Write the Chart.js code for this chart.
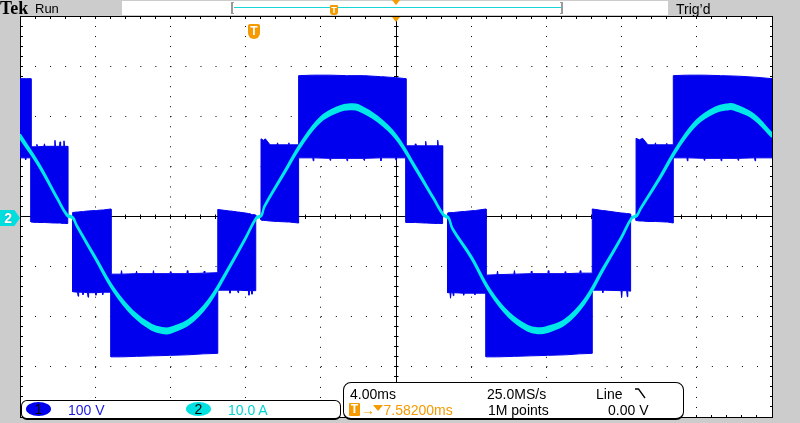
<!DOCTYPE html>
<html>
<head>
<meta charset="utf-8">
<script src="https://cdn.jsdelivr.net/npm/chart.js@4.4.0/dist/chart.umd.min.js"></script>
<style>
html,body{margin:0;padding:0;width:800px;height:423px;overflow:hidden;background:#cccccc;font-family:"Liberation Sans",Arial,sans-serif;}
#plotbg{position:absolute;left:20px;top:16px;width:752px;height:401px;background:#fff;}
#cv{position:absolute;left:0;top:0;}
.t{position:absolute;white-space:nowrap;font-size:14px;line-height:14px;z-index:5;}
.abs{position:absolute;z-index:5;}
</style>
</head>
<body>
<div id="plotbg"></div>
<canvas id="cv" width="800" height="423"></canvas>

<!-- top status bar -->
<div class="t" style="left:0;top:-1px;font-family:'Liberation Serif',serif;font-weight:bold;font-size:18px;line-height:18px;">Tek</div>
<div class="t" style="left:35px;top:2px;font-size:13px;line-height:13px;">Run</div>
<div class="abs" style="left:122px;top:1px;width:546px;height:14px;background:#fff;"></div>
<div class="abs" style="left:231px;top:2px;width:2px;height:12px;background:#9a9a9a;"></div>
<div class="abs" style="left:231px;top:2px;width:3px;height:1px;background:#9a9a9a;"></div>
<div class="abs" style="left:231px;top:13px;width:3px;height:1px;background:#9a9a9a;"></div>
<div class="abs" style="left:561px;top:2px;width:2px;height:12px;background:#9a9a9a;"></div>
<div class="abs" style="left:560px;top:2px;width:3px;height:1px;background:#9a9a9a;"></div>
<div class="abs" style="left:560px;top:13px;width:3px;height:1px;background:#9a9a9a;"></div>
<div class="abs" style="left:234px;top:7px;width:327px;height:1px;background:#18d4d4;"></div>
<div class="abs" style="left:330px;top:5px;width:8px;height:10px;background:#f59a00;border-radius:1px 1px 3px 3px;color:#fff;font:bold 9px 'Liberation Sans',sans-serif;line-height:10px;text-align:center;">T</div>
<div class="abs" style="left:392px;top:0;width:0;height:0;border-left:4px solid transparent;border-right:4px solid transparent;border-top:5px solid #f59a00;"></div>
<div class="t" style="left:676px;top:1.5px;">Trig’d</div>

<!-- graticule markers -->
<div class="abs" style="left:392px;top:17px;width:0;height:0;border-left:4px solid transparent;border-right:4px solid transparent;border-top:5px solid #f59a00;"></div>
<div class="abs" style="left:248px;top:24px;width:12px;height:15px;background:#f59a00;border-radius:2px 2px 6px 6px;color:#fff;font:bold 12px 'Liberation Sans',sans-serif;line-height:14px;text-align:center;">T</div>
<div class="abs" style="left:0;top:210px;width:20px;height:16px;background:#00dede;clip-path:polygon(0 0,72% 0,100% 50%,72% 100%,0 100%);color:#fff;font:bold 14px 'Liberation Sans',sans-serif;line-height:16px;text-indent:4px;text-shadow:0 0 1px #067;">2</div>

<!-- bottom left channel box -->
<div class="abs" style="left:21px;top:400px;width:320px;height:20px;box-sizing:border-box;background:#fff;border:1px solid #000;border-bottom-width:2px;border-radius:6px;"></div>
<div class="abs" style="left:26px;top:402px;width:25px;height:14px;border-radius:50%;background:#0000ee;color:#000;font-size:14px;line-height:14px;text-align:center;">1</div>
<div class="t" style="left:68px;top:403.3px;color:#1818e0;">100 V</div>
<div class="abs" style="left:186px;top:402px;width:25px;height:14px;border-radius:50%;background:#00e0e0;color:#000;font-size:14px;line-height:14px;text-align:center;">2</div>
<div class="t" style="left:228px;top:403.3px;color:#00d4d4;">10.0 A</div>

<!-- bottom right timebase/trigger box -->
<div class="abs" style="left:343px;top:382px;width:341px;height:38px;box-sizing:border-box;background:#fff;border:1px solid #000;border-bottom-width:2px;border-radius:8px;"></div>
<div class="t" style="left:350px;top:386.6px;">4.00ms</div>
<div class="t" style="left:487px;top:386.6px;">25.0MS/s</div>
<div class="t" style="left:596px;top:386.6px;">Line</div>
<svg class="abs" style="left:633px;top:387px;" width="14" height="13"><polyline points="2,2 5.5,2 12,11" fill="none" stroke="#000" stroke-width="1.3"/></svg>
<div class="abs" style="left:349px;top:403px;width:11px;height:13px;background:#f59a00;border-radius:1px;color:#fff;font:bold 12px 'Liberation Sans',sans-serif;line-height:13px;text-align:center;">T</div>
<div class="t" style="left:361px;top:403.3px;color:#f59a00;">→</div>
<div class="abs" style="left:372.5px;top:405px;width:0;height:0;border-left:5px solid transparent;border-right:5px solid transparent;border-top:6px solid #f59a00;"></div>
<div class="t" style="left:383.5px;top:403.3px;color:#f59a00;">7.58200ms</div>
<div class="t" style="left:488px;top:403.3px;">1M points</div>
<div class="t" style="left:608px;top:403.3px;">0.00 V</div>

<script>
// ---- Data ----
// Channel 2: current (A) vs time (ms, 0 = left edge of screen), with visible trace thickness (A)
const timeMs = [0,1,2,2.5,2.82,3,4,5,6,7, 7.7,8,9,10,11,12,12.57,12.84,13,14, 15,16,17,17.6,18,19,20,21,22,22.53, 22.8,23,24,25,26,27,27.6,28,29,30, 31,32,32.54,32.81,33,34,35,36,37,37.7, 38,39,40];
const currentA = [16.0,10.3,3.5,0.3,-0.3,-1.7,-8.2,-14.7,-19.3,-22.1, -22.8,-22.7,-21.0,-17.2,-11.0,-4.3,-0.3,0.2,2.0,8.4, 14.7,19.4,21.5,21.9,21.7,19.5,15.9,9.9,3.6,0.3, -0.3,-2.4,-8.1,-14.9,-19.6,-22.3,-22.8,-22.6,-21.0,-17.1, -10.6,-4.1,-0.3,0.2,1.5,7.5,13.9,18.8,21.3,21.9, 21.8,20.0,16.2];
const currentSpreadA = [0.8,0.5,0.35,0.3,0.3,0.3,0.45,0.6,0.8,0.95, 1.0,1.0,0.9,0.75,0.5,0.35,0.3,0.3,0.3,0.45, 0.6,0.8,0.95,1.0,1.0,0.85,0.7,0.5,0.35,0.3, 0.3,0.3,0.45,0.6,0.8,0.95,1.0,1.0,0.9,0.75, 0.5,0.35,0.3,0.3,0.3,0.45,0.6,0.8,0.95,1.0, 1.0,0.85,0.7];

// Channel 1: multilevel PWM voltage drawn as its envelope, max / min (V) vs time (ms)
const vTime = [
  0,0.27,0.3,0.33,0.585,
  0.585,0.87,0.9,0.93,1.27,1.3,1.33,1.83,1.86,1.89,2.10,2.13,2.16,2.31,2.34,2.37,2.54,
  2.54,2.80,
  2.80,3.06,3.09,3.12,3.32,3.35,3.38,3.59,3.62,3.65,4.01,4.04,4.07,4.37,4.4,4.43,4.84,
  4.84,5.37,5.4,5.43,6.17,6.2,6.23,7.07,7.1,7.13,7.97,8.0,8.03,8.87,8.9,8.93,9.77,9.8,9.83,10.52,
  10.52,11.14,11.17,11.2,11.57,11.6,11.63,12.15,12.18,12.21,12.31,12.34,12.37,12.54,
  12.54,12.82,
  12.82,12.95,13.05,13.3,13.67,13.7,13.73,14.27,14.3,14.33,14.82,
  14.82,15.57,15.6,15.63,16.47,16.5,16.53,17.37,17.4,17.43,18.27,18.3,18.33,19.17,19.2,19.23,19.97,20.0,20.03,20.53,
  20.53,21.0,21.03,21.06,21.55,21.58,21.61,22.19,22.22,22.25,22.48,
  22.48,22.75,
  22.75,22.87,22.9,22.93,23.02,23.05,23.08,23.57,23.6,23.63,24.17,24.2,24.23,24.79,
  24.79,25.37,25.4,25.43,26.27,26.3,26.33,27.17,27.2,27.23,28.07,28.1,28.13,28.97,29.0,29.03,29.77,29.8,29.83,30.44,
  30.44,30.97,31.0,31.03,31.97,32.0,32.03,32.27,32.3,32.33,32.48,
  32.48,32.77,
  32.77,32.95,33.12,33.4,33.77,33.8,33.83,34.37,34.4,34.43,34.75,
  34.75,35.47,35.5,35.53,36.37,36.4,36.43,37.27,37.3,37.33,38.17,38.2,38.23,39.07,39.1,39.13,40
];
const vUpper = [
  275,275,275,275,275,
  139,139,144,139,140,145,140,140,152,140,140,149,140,140,151,140,140,
  0,0,
  8,9,9,9,10,10,10,11,11,11,12,12,12,13,13,13,15,
  -115,-115,-108,-115,-114,-109,-114,-114,-108,-114,-114,-110,-114,-114,-108,-114,-113,-109,-113,-112,
  14,11,11,11,9,9,9,6,6,6,4,4,4,3,
  0,0,
  155,152,155,143,143,147,143,143,147,143,143,
  281,282,282,282,282,282,282,281,281,281,281,281,281,279,279,279,277,277,277,275,
  141,141,145,141,141,150,141,141,152,141,141,
  0,0,
  7,8,8,8,8,8,8,10,10,10,12,12,12,15,
  -117,-116,-109,-116,-115,-108,-115,-114,-109,-114,-114,-108,-114,-114,-110,-114,-113,-108,-113,-113,
  15,12,12,12,7,7,7,6,6,6,5,
  0,0,
  156,153,156,143,143,147,143,143,146,143,143,
  281,282,282,282,282,282,282,281,281,281,280,280,280,278,278,278,275
];
const vLower = [
  117,117,113,117,117,
  -11,-12,-12,-12,-12,-12,-12,-13,-13,-13,-13,-13,-13,-14,-14,-14,-14,
  0,0,
  -150,-151,-159,-151,-151,-156,-151,-152,-161,-152,-152,-157,-152,-151,-156,-151,-151,
  -280,-280,-280,-280,-279,-279,-279,-278,-278,-278,-277,-277,-277,-276,-276,-276,-274,-274,-274,-273,
  -147,-147,-153,-147,-147,-152,-147,-148,-157,-148,-148,-155,-148,-148,
  0,0,
  -7,-8,-8,-9,-10,-10,-10,-11,-11,-11,-13,
  117,117,111,117,116,112,116,116,111,116,116,112,116,117,111,117,117,112,117,117,
  -12,-12,-12,-12,-13,-13,-13,-14,-14,-14,-14,
  0,0,
  -152,-152,-163,-152,-152,-158,-152,-153,-157,-153,-153,-156,-153,-153,
  -280,-280,-280,-280,-279,-279,-279,-278,-278,-278,-277,-277,-277,-276,-276,-276,-274,-274,-274,-273,
  -147,-147,-152,-147,-148,-161,-148,-148,-160,-148,-149,
  0,0,
  -8,-9,-9,-10,-10,-10,-10,-11,-11,-11,-13,
  117,117,111,117,116,112,116,116,111,116,116,112,116,117,111,117,117
];

// Scope settings (per division)
const msPerDiv = 4, voltsPerDiv = 100, ampsPerDiv = 10;
const hDivs = 10, vDivs = 8;

const tMax = msPerDiv * hDivs;
const vMax = voltsPerDiv * vDivs / 2;
const aMax = ampsPerDiv * vDivs / 2;

const BLUE = '#0000ee';
const CYAN = '#00e8e8';

const upperPts = vTime.map((t, i) => ({x: t, y: vUpper[i]}));
const lowerPts = vTime.map((t, i) => ({x: t, y: vLower[i]}));
const curHiPts = timeMs.map((t, i) => ({x: t, y: currentA[i] + currentSpreadA[i] / 2}));
const curLoPts = timeMs.map((t, i) => ({x: t, y: currentA[i] - currentSpreadA[i] / 2}));

function edgeAxis(axis, pos, step, tl, showBorder) {
  return {
    type: 'linear', axis: axis, position: pos, display: true,
    min: axis === 'x' ? 0 : -vMax, max: axis === 'x' ? tMax : vMax,
    ticks: {display: false, stepSize: step},
    grid: {drawOnChartArea: false, drawTicks: true, tickLength: tl, tickColor: '#000', tickWidth: 1},
    border: {display: showBorder, color: '#000', width: 1},
    z: 1
  };
}

new Chart(document.getElementById('cv'), {
  type: 'line',
  data: {
    datasets: [
      {label: 'I hi', data: curHiPts, xAxisID: 'x', yAxisID: 'yCur', borderColor: CYAN, borderWidth: 2,
       pointRadius: 0, tension: 0.4, fill: false},
      {label: 'I lo', data: curLoPts, xAxisID: 'x', yAxisID: 'yCur', borderColor: CYAN, borderWidth: 2,
       pointRadius: 0, tension: 0.4, fill: '-1', backgroundColor: CYAN},
      {label: 'Vmax', data: upperPts, xAxisID: 'x', yAxisID: 'y', borderColor: BLUE, borderWidth: 1,
       pointRadius: 0, tension: 0, fill: false},
      {label: 'Vmin', data: lowerPts, xAxisID: 'x', yAxisID: 'y', borderColor: BLUE, borderWidth: 1,
       pointRadius: 0, tension: 0, fill: '-1', backgroundColor: BLUE}
    ]
  },
  options: {
    responsive: false, animation: false, devicePixelRatio: 1,
    layout: {padding: {left: 20, top: 16, right: 28, bottom: 6}},
    plugins: {legend: {display: false}, tooltip: {enabled: false}},
    events: [],
    scales: {
      x: {type: 'linear', min: 0, max: tMax, ticks: {display: false, stepSize: msPerDiv},
          grid: {color: '#000', lineWidth: 1, drawTicks: false}, border: {display: false, dash: [1, 9.025]}},
      y: {type: 'linear', min: -vMax, max: vMax, ticks: {display: false, stepSize: voltsPerDiv},
          grid: {color: '#000', lineWidth: 1, drawTicks: false}, border: {display: false, dash: [1, 14.04]}},
      yCur: {type: 'linear', min: -aMax, max: aMax, display: false},
      xTop: edgeAxis('x', {y: vMax}, msPerDiv / 5, 2, true),
      xBot: edgeAxis('x', {y: -vMax}, msPerDiv / 5, -3, true),
      yLeft: edgeAxis('y', {x: 0}, voltsPerDiv / 5, -3, true),
      yRight: edgeAxis('y', {x: tMax}, voltsPerDiv / 5, 2, true),
      xMid: edgeAxis('x', {y: 0}, msPerDiv / 5, 2, true),
      xMid2: edgeAxis('x', {y: 0}, msPerDiv / 5, -2.5, false),
      yMid: edgeAxis('y', {x: tMax / 2}, voltsPerDiv / 5, 2, true),
      yMid2: edgeAxis('y', {x: tMax / 2}, voltsPerDiv / 5, -2.5, false)
    }
  }
});
</script>
</body>
</html>
